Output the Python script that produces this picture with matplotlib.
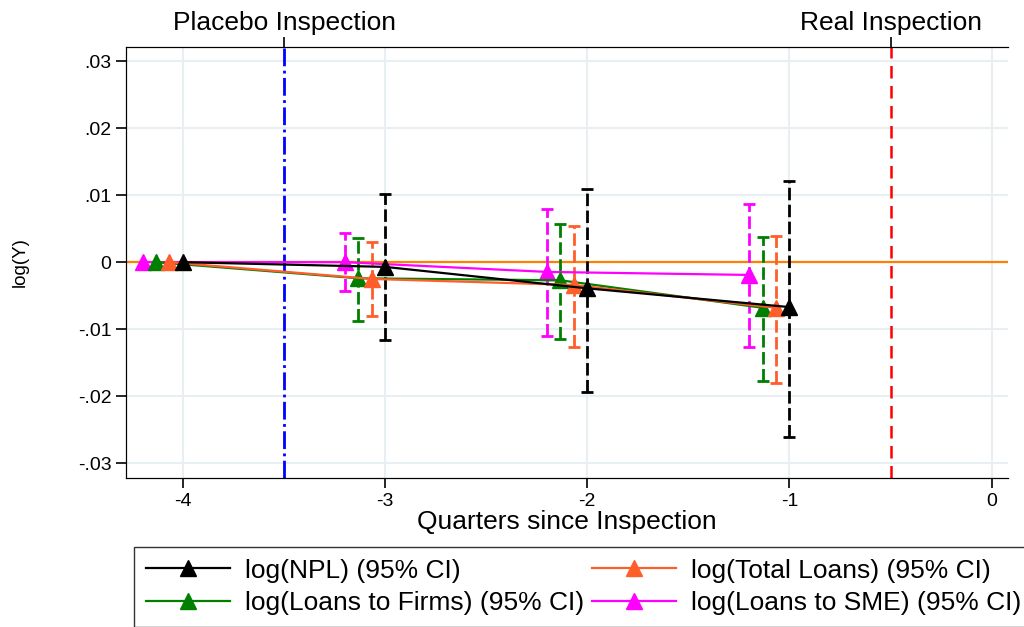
import matplotlib.pyplot as plt

plt.rcParams['font.family'] = ['Liberation Sans', 'DejaVu Sans']

# Data
quarters = [-4, -3, -2, -1]
offsets = [0.0, -0.067, -0.133, -0.2]
labels = ["log(NPL) (95% CI)", "log(Total Loans) (95% CI)",
          "log(Loans to Firms) (95% CI)", "log(Loans to SME) (95% CI)"]
colors = ["black", "#FF5E2A", "#007F00", "#FF00FF"]

coef = [
    [0.0, -0.0007, -0.0039, -0.0067],   # NPL
    [0.0, -0.0025, -0.0034, -0.0068],   # Total loans
    [0.0, -0.0024, -0.0027, -0.0068],   # Firms
    [0.0, 0.0000, -0.00145, -0.0019],   # SME
]
ci_low = [
    [0.0, -0.0116, -0.0194, -0.0261],
    [0.0, -0.0081, -0.0127, -0.0180],
    [0.0, -0.0088, -0.0114, -0.0177],
    [0.0, -0.0043, -0.0110, -0.0127],
]
ci_high = [
    [0.0, 0.0101, 0.0109, 0.0121],
    [0.0, 0.0030, 0.0054, 0.0039],
    [0.0, 0.0036, 0.0057, 0.0038],
    [0.0, 0.0043, 0.0079, 0.0087],
]

fig = plt.figure(figsize=(10.24, 6.27), dpi=100)
ax = fig.add_axes([0.123, 0.2376, 0.861, 0.6874])

ax.set_xlim(-4.282, 0.079)
ax.set_ylim(-0.0322, 0.0321)
ax.set_xticks([-4, -3, -2, -1, 0])
ax.set_xticklabels(["-4", "-3", "-2", "-1", "0"])
ax.set_yticks([0.03, 0.02, 0.01, 0, -0.01, -0.02, -0.03])
ax.set_yticklabels([".03", ".02", ".01", "0", "-.01", "-.02", "-.03"])
ax.grid(True, color="#E8EFF2", linewidth=1.5)
ax.set_axisbelow(True)
ax.tick_params(labelsize=14, length=7, width=1.2)
ax.spines["right"].set_visible(False)
ax.set_xlabel("Quarters since Inspection", fontsize=19, labelpad=0)
ax.set_ylabel("log(Y)", fontsize=13.5)
ax.yaxis.set_label_coords(-0.11, 0.5)

ax.axhline(0, color="#FF8000", linewidth=1.6, zorder=1)
ax.axvline(-3.5, color="blue", linestyle="-.", linewidth=2, zorder=1)
ax.axvline(-0.5, color="red", linestyle=(0, (5, 3)), linewidth=1.8, zorder=1)

handles = []
for i in range(4):
    xs = [q + offsets[i] for q in quarters]
    lo = [c - l for c, l in zip(coef[i], ci_low[i])]
    hi = [h - c for c, h in zip(coef[i], ci_high[i])]
    eb = ax.errorbar(xs[1:], coef[i][1:], yerr=[lo[1:], hi[1:]], fmt="none",
                     ecolor=colors[i], elinewidth=2, capsize=4, capthick=2, zorder=3)
    eb[2][0].set_linestyle((0, (4.5, 1.6)))
    h, = ax.plot(xs, coef[i], color=colors[i], marker="^", markersize=11,
                 linewidth=1.6, zorder=4 - i * 0.1, label=labels[i])
    handles.append(h)

top = ax.twiny()
top.set_xlim(ax.get_xlim())
top.set_xticks([-3.5, -0.5])
top.set_xticklabels(["Placebo Inspection", "Real Inspection"])
top.tick_params(labelsize=19, length=7, width=1.2, pad=2)
top.spines["right"].set_visible(False)

# column-wise fill: NPL, Firms | Total, SME
order = [0, 2, 1, 3]
fig.legend([handles[k] for k in order], [labels[k] for k in order],
           loc="lower left", bbox_to_anchor=(0.131, 0.0),
           ncol=2, fontsize=19, frameon=True, fancybox=False, edgecolor="black",
           handlelength=3.2, columnspacing=0.3, borderpad=0.45, labelspacing=0.32,
           handletextpad=0.55, borderaxespad=0.0)

fig.savefig("out.png", dpi=100)
